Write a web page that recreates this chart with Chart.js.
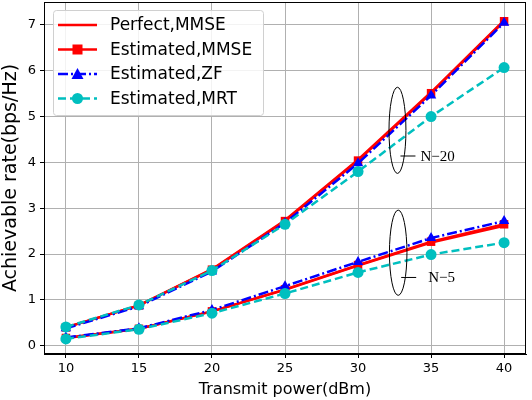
<!DOCTYPE html>
<html lang="en">
<head>
  <meta charset="UTF-8" />
  <title>Achievable rate vs transmit power</title>
  <script src="https://cdn.jsdelivr.net/npm/chart.js"></script>
  <style>
    html, body { margin: 0; padding: 0; background: #fff; }
    #wrap { width: 532px; height: 400px; }
  </style>
</head>
<body>
  <div id="wrap"><canvas id="chart" width="532" height="400"></canvas></div>

  <script>
    // transmit power (dBm)
    const power = [10, 15, 20, 25, 30, 35, 40];
    const xTicks = [10, 15, 20, 25, 30, 35, 40];
    const yTicks = [0, 1, 2, 3, 4, 5, 6, 7];

    // N = 20
    const perfectMmse20 = [0.40, 0.88, 1.67, 2.74, 4.06, 5.53, 7.10];
    const estMmse20     = [0.40, 0.88, 1.66, 2.72, 4.04, 5.51, 7.08];
    const estZf20       = [0.38, 0.86, 1.62, 2.68, 3.98, 5.46, 7.05];
    const estMrt20      = [0.41, 0.89, 1.64, 2.65, 3.80, 5.00, 6.07];

    // N = 5
    const perfectMmse5 = [0.17, 0.37, 0.75, 1.22, 1.75, 2.25, 2.62];
    const estMmse5     = [0.17, 0.37, 0.75, 1.23, 1.76, 2.27, 2.65];
    const estZf5       = [0.18, 0.38, 0.78, 1.30, 1.83, 2.35, 2.72];
    const estMrt5      = [0.15, 0.36, 0.71, 1.14, 1.60, 1.99, 2.25];

    const seriesNames = ['Perfect,MMSE', 'Estimated,MMSE', 'Estimated,ZF', 'Estimated,MRT'];

    // ellipse notes (data coords)
    const noteLabels = ['N\u221220', 'N\u22125'];
    const noteCx = [32.7, 32.75];
    const noteCy = [4.70, 2.03];
    const noteRx = [0.58, 0.60];
    const noteRy = [0.94, 0.93];
    const noteLineY = [4.14, 1.49];

    const RED = '#ff0000', BLUE = '#0000ff', CYAN = '#00bfbf';

    const styles = [
      { color: RED,  dash: [],             marker: false,      order: 3 },
      { color: RED,  dash: [],             marker: 'rect',     order: 2 },
      { color: BLUE, dash: [10, 3, 2, 3],  marker: 'triangle', order: 1 },
      { color: CYAN, dash: [8, 4],         marker: 'circle',   order: 0 }
    ];

    const toPts = arr => arr.map((v, i) => ({ x: power[i], y: v }));

    const datasets = [];
    [[perfectMmse20, perfectMmse5], [estMmse20, estMmse5], [estZf20, estZf5], [estMrt20, estMrt5]]
      .forEach((pair, s) => {
        pair.forEach(arr => {
          const st = styles[s];
          datasets.push({
            label: seriesNames[s],
            data: toPts(arr),
            borderColor: st.color,
            backgroundColor: st.color,
            borderWidth: 2.5,
            borderDash: st.dash,
            pointStyle: st.marker || 'circle',
            pointRadius: st.marker ? (st.marker === 'circle' ? 5.5 : 6) : 0,
            pointHoverRadius: 0,
            pointBorderWidth: 0,
            tension: 0,
            order: st.order
          });
        });
      });

    const framePlugin = {
      id: 'frame',
      afterDraw(chart) {
        const { ctx, chartArea: a } = chart;
        ctx.save();
        ctx.strokeStyle = '#000';
        ctx.lineWidth = 1;
        ctx.strokeRect(a.left + 0.5, a.top + 0.5, a.right - a.left - 1, a.bottom - a.top - 1);
        ctx.restore();
      }
    };

    const notesPlugin = {
      id: 'notes',
      afterDatasetsDraw(chart) {
        const { ctx, scales: { x, y } } = chart;
        ctx.save();
        noteLabels.forEach((txt, i) => {
          const cx = x.getPixelForValue(noteCx[i]);
          const cy = y.getPixelForValue(noteCy[i]);
          const rx = x.getPixelForValue(noteCx[i] + noteRx[i]) - cx;
          const ry = cy - y.getPixelForValue(noteCy[i] + noteRy[i]);
          ctx.strokeStyle = '#000';
          ctx.lineWidth = 1;
          ctx.setLineDash([]);
          ctx.beginPath();
          ctx.ellipse(cx, cy, rx, ry, 0, 0, Math.PI * 2);
          ctx.stroke();
          const ly = y.getPixelForValue(noteLineY[i]);
          ctx.beginPath();
          ctx.moveTo(cx + 3, ly);
          ctx.lineTo(cx + 18, ly);
          ctx.stroke();
          ctx.fillStyle = '#000';
          ctx.font = '15px "Liberation Serif", serif';
          ctx.textBaseline = 'middle';
          ctx.textAlign = 'left';
          ctx.fillText(txt, cx + (i === 0 ? 23 : 30), ly + 1);
        });
        ctx.restore();
      }
    };

    const legendPlugin = {
      id: 'boxLegend',
      afterDraw(chart) {
        const { ctx, chartArea: a } = chart;
        const bx = a.left + 9, by = a.top + 8, bw = 210, bh = 105;
        ctx.save();
        ctx.fillStyle = 'rgba(255,255,255,0.85)';
        ctx.strokeStyle = '#d0d0d0';
        ctx.lineWidth = 1;
        ctx.beginPath();
        ctx.roundRect(bx + 0.5, by + 0.5, bw, bh, 3);
        ctx.fill();
        ctx.stroke();
        seriesNames.forEach((name, i) => {
          const st = styles[i];
          const ly = by + 15 + i * 24.5;
          ctx.strokeStyle = st.color;
          ctx.fillStyle = st.color;
          ctx.lineWidth = 2.5;
          ctx.setLineDash(st.dash);
          ctx.beginPath();
          ctx.moveTo(bx + 5, ly);
          ctx.lineTo(bx + 44, ly);
          ctx.stroke();
          ctx.setLineDash([]);
          const mx = bx + 24.5;
          if (st.marker === 'rect') {
            ctx.fillRect(mx - 5, ly - 5, 10, 10);
          } else if (st.marker === 'triangle') {
            ctx.beginPath();
            ctx.moveTo(mx, ly - 6);
            ctx.lineTo(mx + 6, ly + 5);
            ctx.lineTo(mx - 6, ly + 5);
            ctx.closePath();
            ctx.fill();
          } else if (st.marker === 'circle') {
            ctx.beginPath();
            ctx.arc(mx, ly, 5.5, 0, Math.PI * 2);
            ctx.fill();
          }
          ctx.fillStyle = '#000';
          ctx.font = '17px "DejaVu Sans"';
          ctx.textBaseline = 'middle';
          ctx.textAlign = 'left';
          ctx.fillText(name, bx + 57, ly + 1);
        });
        ctx.restore();
      }
    };

    new Chart(document.getElementById('chart').getContext('2d'), {
      type: 'line',
      data: { datasets },
      options: {
        responsive: false,
        animation: false,
        layout: { autoPadding: false, padding: { top: 2, right: 6, left: 0, bottom: 0 } },
        plugins: { legend: { display: false }, tooltip: { enabled: false } },
        scales: {
          x: {
            type: 'linear',
            min: 8.5,
            max: 41.5,
            afterBuildTicks: s => { s.ticks = xTicks.map(v => ({ value: v })); },
            afterFit: s => { s.height = 46; s.paddingLeft = 0; s.paddingRight = 0; },
            grid: { color: '#b0b0b0', lineWidth: 1, tickColor: '#000', tickLength: 4 },
            border: { color: '#000', width: 1 },
            ticks: { color: '#000', font: { family: 'DejaVu Sans', size: 13 }, padding: 3, maxRotation: 0 },
            title: { display: true, text: 'Transmit power(dBm)', color: '#000', font: { family: 'DejaVu Sans', size: 16 }, padding: { top: 0, bottom: 1 } }
          },
          y: {
            type: 'linear',
            min: -0.18,
            max: 7.5,
            afterBuildTicks: s => { s.ticks = yTicks.map(v => ({ value: v })); },
            afterFit: s => { s.width = 44; s.paddingTop = 0; s.paddingBottom = 0; },
            grid: { color: '#b0b0b0', lineWidth: 1, tickColor: '#000', tickLength: 4 },
            border: { color: '#000', width: 1 },
            ticks: { color: '#000', font: { family: 'DejaVu Sans', size: 13 }, padding: 4 },
            title: { display: true, text: 'Achievable rate(bps/Hz)', color: '#000', font: { family: 'DejaVu Sans', size: 19 }, padding: { top: 0, bottom: 0 } }
          }
        }
      },
      plugins: [framePlugin, notesPlugin, legendPlugin]
    });
  </script>
</body>
</html>
